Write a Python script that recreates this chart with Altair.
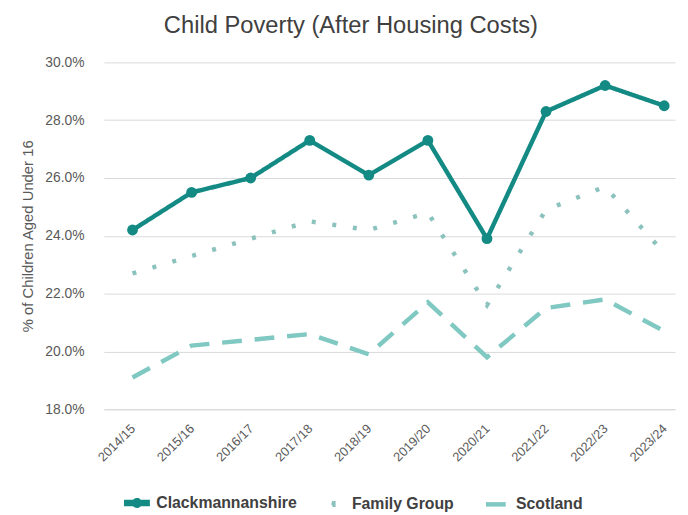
import altair as alt
import pandas as pd
import json

years = ["2014/15", "2015/16", "2016/17", "2017/18", "2018/19",
         "2019/20", "2020/21", "2021/22", "2022/23", "2023/24"]
clack = [24.2, 25.5, 26.0, 27.3, 26.1, 27.3, 23.9, 28.3, 29.2, 28.5]
family = [22.7, 23.3, 23.9, 24.5, 24.2, 24.8, 21.6, 24.9, 25.7, 23.4]
scotland = [19.1, 20.2, 20.4, 20.6, 19.9, 21.7, 19.8, 21.5, 21.8, 20.7]

series = ["Clackmannanshire", "Family Group", "Scotland"]
colors = ["#138a84", "#8cc2be", "#80c8c2"]
dashes = [[1, 0], [4, 17], [20, 13]]

rows = []
for name, vals in zip(series, [clack, family, scotland]):
    for i, (yr, v) in enumerate(zip(years, vals)):
        rows.append({"Year": yr, "Idx": i, "Series": name, "Value": v})
df = pd.DataFrame(rows)

year_expr = json.dumps(years) + "[datum.value]"

x = alt.X("Idx:Q", title=None,
          scale=alt.Scale(domain=[-0.485, 9.184], nice=False, zero=False),
          axis=alt.Axis(values=list(range(len(years))), labelExpr=year_expr,
                        labelAngle=-45, labelAlign="right", labelBaseline="top",
                        labelColor="#595959", labelFontSize=13, labelFont="Liberation Sans",
                        ticks=False, domainColor="#d9d9d9", labelPadding=13, labelOffset=-4,
                        grid=False, labelFlush=False, labelOverlap=False))
y = alt.Y("Value:Q", title="% of Children Aged Under 16",
          scale=alt.Scale(domain=[18, 30], nice=False, zero=False),
          axis=alt.Axis(values=[18, 20, 22, 24, 26, 28, 30],
                        labelExpr="format(datum.value, '.1f') + '%'",
                        labelColor="#595959", labelFontSize=14, labelFont="Liberation Sans",
                        titleColor="#595959", titleFontSize=15, titleFont="Liberation Sans",
                        titleFontWeight="normal", titlePadding=10,
                        ticks=False, domain=False, gridColor="#d9d9d9", labelPadding=20))

clack_sym = ("M-1,-0.1L1,-0.1L1,0.1L-1,0.1Z "
             "M-0.26,0A0.26,0.26 0 1,1 0.26,0A0.26,0.26 0 1,1 -0.26,0Z")
fam_sym = "M-0.07,-0.07L0.07,-0.07L0.07,0.07L-0.07,0.07Z"
sym_expr = ("datum.value == 'Clackmannanshire' ? '" + clack_sym + "' : "
            "datum.value == 'Family Group' ? '" + fam_sym + "' : 'stroke'")

color = alt.Color("Series:N", scale=alt.Scale(domain=series, range=colors),
                  legend=alt.Legend(orient="none", legendX=20, legendY=432,
                                    direction="horizontal", title=None,
                                    symbolType=alt.ExprRef(sym_expr),
                                    symbolStrokeWidth=4.5, symbolSize=470,
                                    labelFontSize=16, labelFontWeight="bold",
                                    labelColor="#404040", labelFont="Liberation Sans",
                                    labelOffset=6, columnPadding=22))
dash = alt.StrokeDash("Series:N", scale=alt.Scale(domain=series, range=dashes), legend=None)

lines = alt.Chart(df).mark_line(strokeWidth=4.5, strokeCap="butt").encode(
    x=x, y=y, color=color, strokeDash=dash)

points = alt.Chart(df).transform_filter(alt.datum.Series == "Clackmannanshire").mark_point(
    filled=True, size=120, opacity=1, color="#138a84").encode(x=x, y=y)

chart = alt.layer(lines, points).properties(
    width=578, height=351,
    autosize=alt.AutoSizeParams(type="none"),
    padding={"left": 97, "right": 5, "top": 52, "bottom": 104},
    title=alt.TitleParams("Child Poverty (After Housing Costs)", fontSize=24,
                          font="Liberation Sans", fontWeight="normal",
                          color="#404040", offset=18, dx=-39),
).configure_view(stroke=None)

chart.save("out.html", embed_options={"renderer": "svg", "actions": False})
